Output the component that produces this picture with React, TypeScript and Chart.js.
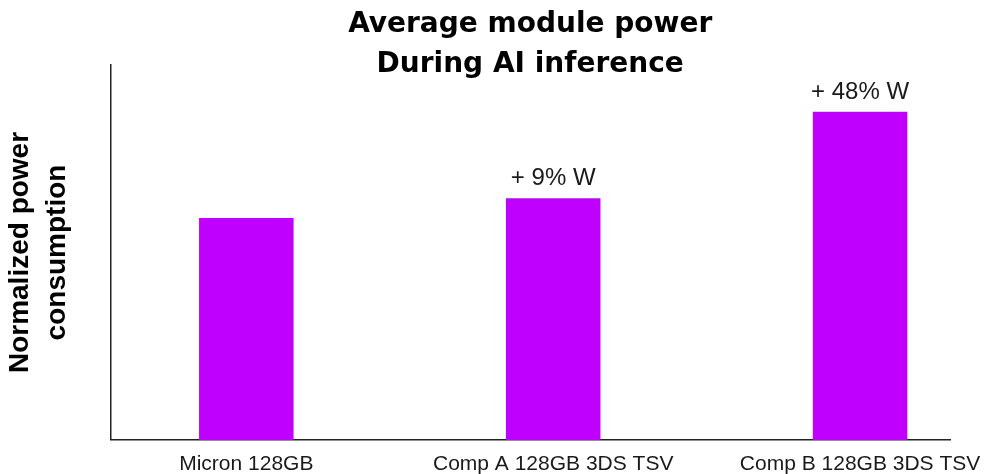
import React, { useEffect, useRef } from "react";
import { Chart, registerables } from "chart.js";

Chart.register(...registerables);

const categories = ["Micron 128GB", "Comp A 128GB 3DS TSV", "Comp B 128GB 3DS TSV"];
const powerValues = [1.0, 1.09, 1.48];
const barLabels = ["", "+ 9% W", "+ 48% W"];
const titleLines = ["Average module power", "During AI inference"];
const yTitleLines = ["Normalized power", "consumption"];

const barLabelPlugin = {
  id: "barLabels",
  afterDatasetsDraw(chart: any) {
    const ctx = chart.ctx;
    const meta = chart.getDatasetMeta(0);
    ctx.save();
    ctx.font = "24px 'Liberation Sans', Arial, sans-serif";
    ctx.fillStyle = "#1a1a1a";
    ctx.textAlign = "center";
    ctx.textBaseline = "alphabetic";
    meta.data.forEach((el: any, i: number) => {
      const t = barLabels[i];
      if (t) ctx.fillText(t, el.x, el.y - 13);
    });
    ctx.restore();
  },
};

export default function App() {
  const ref = useRef<HTMLCanvasElement>(null);
  useEffect(() => {
    document.body.style.margin = "0";
    const chart = new Chart(ref.current!, {
      type: "bar",
      data: {
        datasets: [
          {
            data: powerValues.map((v, i) => ({ x: i, y: v })),
            backgroundColor: "#BF00FF",
            borderWidth: 0,
            barPercentage: 0.308,
            categoryPercentage: 1,
          },
        ],
      },
      options: {
        animation: false,
        responsive: false,
        layout: { padding: { left: 0, right: 37, top: 0, bottom: -14 } },
        plugins: {
          legend: { display: false },
          tooltip: { enabled: false },
          title: {
            display: true,
            text: titleLines,
            fullSize: false,
            color: "#000",
            font: { family: "'DejaVu Sans', sans-serif", size: 28, weight: "bold", lineHeight: 1.43 },
            padding: { top: 5, bottom: -20 },
          },
        },
        scales: {
          x: {
            type: "linear",
            min: -0.443,
            max: 2.293,
            offset: false,
            grid: { display: false, drawTicks: false },
            border: { display: true, color: "#222", width: 1.5 },
            afterBuildTicks: (scale: any) => {
              scale.ticks = categories.map((_, i) => ({ value: i }));
            },
            ticks: {
              autoSkip: false,
              maxRotation: 0,
              padding: 0,
              color: "#1a1a1a",
              font: { family: "'Liberation Sans', Arial, sans-serif", size: 21, lineHeight: 2.29 },
              callback: (v: any) => categories[v as number] ?? "",
            },
          },
          y: {
            min: 0,
            max: 1.69,
            grid: { display: false, drawTicks: false },
            border: { display: true, color: "#222", width: 1.5 },
            ticks: { display: false },
            title: {
              display: true,
              text: yTitleLines,
              color: "#000",
              font: { family: "'Liberation Sans', Arial, sans-serif", size: 28, weight: "bold", lineHeight: 1.31 },
              padding: { top: 2, bottom: 35 },
            },
          },
        },
      },
      plugins: [barLabelPlugin],
    } as any);
    return () => chart.destroy();
  }, []);
  return (
    <div style={{ width: 987, height: 474 }}>
      <canvas ref={ref} width={987} height={474} />
    </div>
  );
}
